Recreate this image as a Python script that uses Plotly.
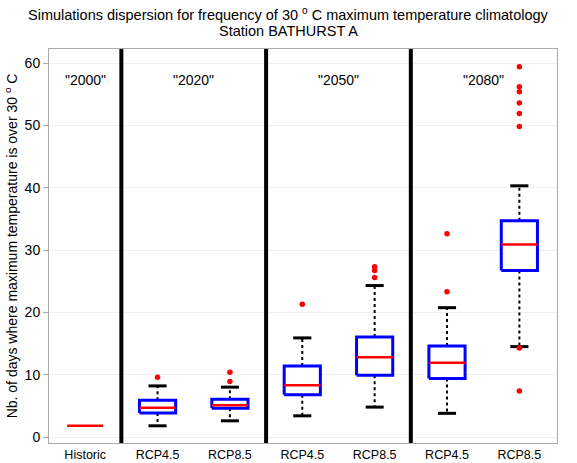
import plotly.graph_objects as go

# ---------------- data ----------------
categories = ["Historic", "RCP4.5", "RCP8.5", "RCP4.5", "RCP8.5", "RCP4.5", "RCP8.5"]
group_of = [0, 1, 1, 2, 2, 3, 3]
periods = ['"2000"', '"2020"', '"2050"', '"2080"']

lower_whisker = [1.8, 1.8, 2.6, 3.4, 4.8, 3.8, 14.5]
q1 = [1.8, 3.85, 4.6, 6.8, 9.9, 9.4, 26.7]
median = [1.8, 4.7, 5.1, 8.3, 12.8, 11.9, 30.9]
q3 = [1.8, 5.9, 6.05, 11.4, 16.05, 14.6, 34.7]
upper_whisker = [1.8, 8.2, 8.0, 15.9, 24.3, 20.75, 40.3]
outliers = [
    [],
    [9.6],
    [8.9, 10.4],
    [21.3],
    [25.6, 26.7, 27.3],
    [23.3, 32.6],
    [7.4, 14.3, 49.8, 51.9, 53.6, 55.4, 56.2, 59.4],
]

y_ticks = [0, 10, 20, 30, 40, 50, 60]
label_level = 57.3
title_lines = [
    "Simulations dispersion for frequency of 30 <sup>o</sup> C maximum temperature climatology",
    "Station BATHURST A",
]

# ---------------- figure ----------------
positions = list(range(1, len(categories) + 1))
half_box = 0.25
half_cap = 0.125

fig = go.Figure()

for i, x in enumerate(positions):
    has_box = q3[i] > q1[i]
    if has_box:
        fig.add_trace(go.Scatter(
            x=[x, x, None, x, x],
            y=[q3[i], upper_whisker[i], None, q1[i], lower_whisker[i]],
            mode="lines", line=dict(color="black", width=2, dash="dot"),
            hoverinfo="skip", showlegend=False))
        fig.add_trace(go.Scatter(
            x=[x - half_cap, x + half_cap, None, x - half_cap, x + half_cap],
            y=[upper_whisker[i], upper_whisker[i], None, lower_whisker[i], lower_whisker[i]],
            mode="lines", line=dict(color="black", width=3),
            hoverinfo="skip", showlegend=False))
        fig.add_trace(go.Scatter(
            x=[x - half_box, x + half_box, x + half_box, x - half_box, x - half_box],
            y=[q1[i], q1[i], q3[i], q3[i], q1[i]],
            mode="lines", line=dict(color="#0000ff", width=3),
            fill="toself", fillcolor="white",
            hoverinfo="skip", showlegend=False))
    fig.add_trace(go.Scatter(
        x=[x - half_box, x + half_box], y=[median[i], median[i]],
        mode="lines", line=dict(color="#ff0000", width=2.5),
        hoverinfo="skip", showlegend=False))
    if outliers[i]:
        fig.add_trace(go.Scatter(
            x=[x] * len(outliers[i]), y=outliers[i], mode="markers",
            marker=dict(color="#ff0000", size=5.5),
            hoverinfo="skip", showlegend=False))

for i in range(len(positions) - 1):
    if group_of[i] != group_of[i + 1]:
        sx = (positions[i] + positions[i + 1]) / 2
        fig.add_shape(type="line", xref="x", yref="paper", x0=sx, x1=sx, y0=0, y1=1,
                      line=dict(color="black", width=4))

for g, name in enumerate(periods):
    members = [p for p, gg in zip(positions, group_of) if gg == g]
    cx = sum(members) / len(members)
    fig.add_annotation(x=cx, y=label_level, xref="x", yref="y", text=name,
                       showarrow=False, font=dict(size=14, color="black"))

font_family = "Liberation Sans, Arial, sans-serif"

for k, (line, yy) in enumerate(zip(title_lines, [1.0888, 1.0457])):
    fig.add_annotation(x=0.4715, y=yy, xref="paper", yref="paper", text=line,
                       showarrow=False, xanchor="center", yanchor="middle",
                       font=dict(size=14.5, color="black", family=font_family))

fig.update_layout(
    width=577, height=463,
    margin=dict(l=49, r=20, t=49, b=20),
    paper_bgcolor="white", plot_bgcolor="white",
    font=dict(family=font_family, color="black"),
    xaxis=dict(
        range=[0.5, 7.52], tickvals=positions, ticktext=categories,
        showgrid=False, zeroline=False, showline=True, linecolor="#aaaaaa",
        linewidth=1, mirror=True, ticks="", tickfont=dict(size=12.5),
        automargin=False),
    yaxis=dict(
        range=[-0.96, 62.25], tickvals=y_ticks,
        showgrid=True, gridcolor="#f0f0f0", zeroline=False,
        showline=True, linecolor="#aaaaaa", linewidth=1, mirror=True,
        ticks="outside", ticklen=5, tickcolor="#aaaaaa",
        tickfont=dict(size=14),
        title=dict(text="Nb. of days where maximum temperature is over 30 <sup>o</sup> C",
                   font=dict(size=14), standoff=3),
        automargin=False),
)

fig.write_html("out.html")
